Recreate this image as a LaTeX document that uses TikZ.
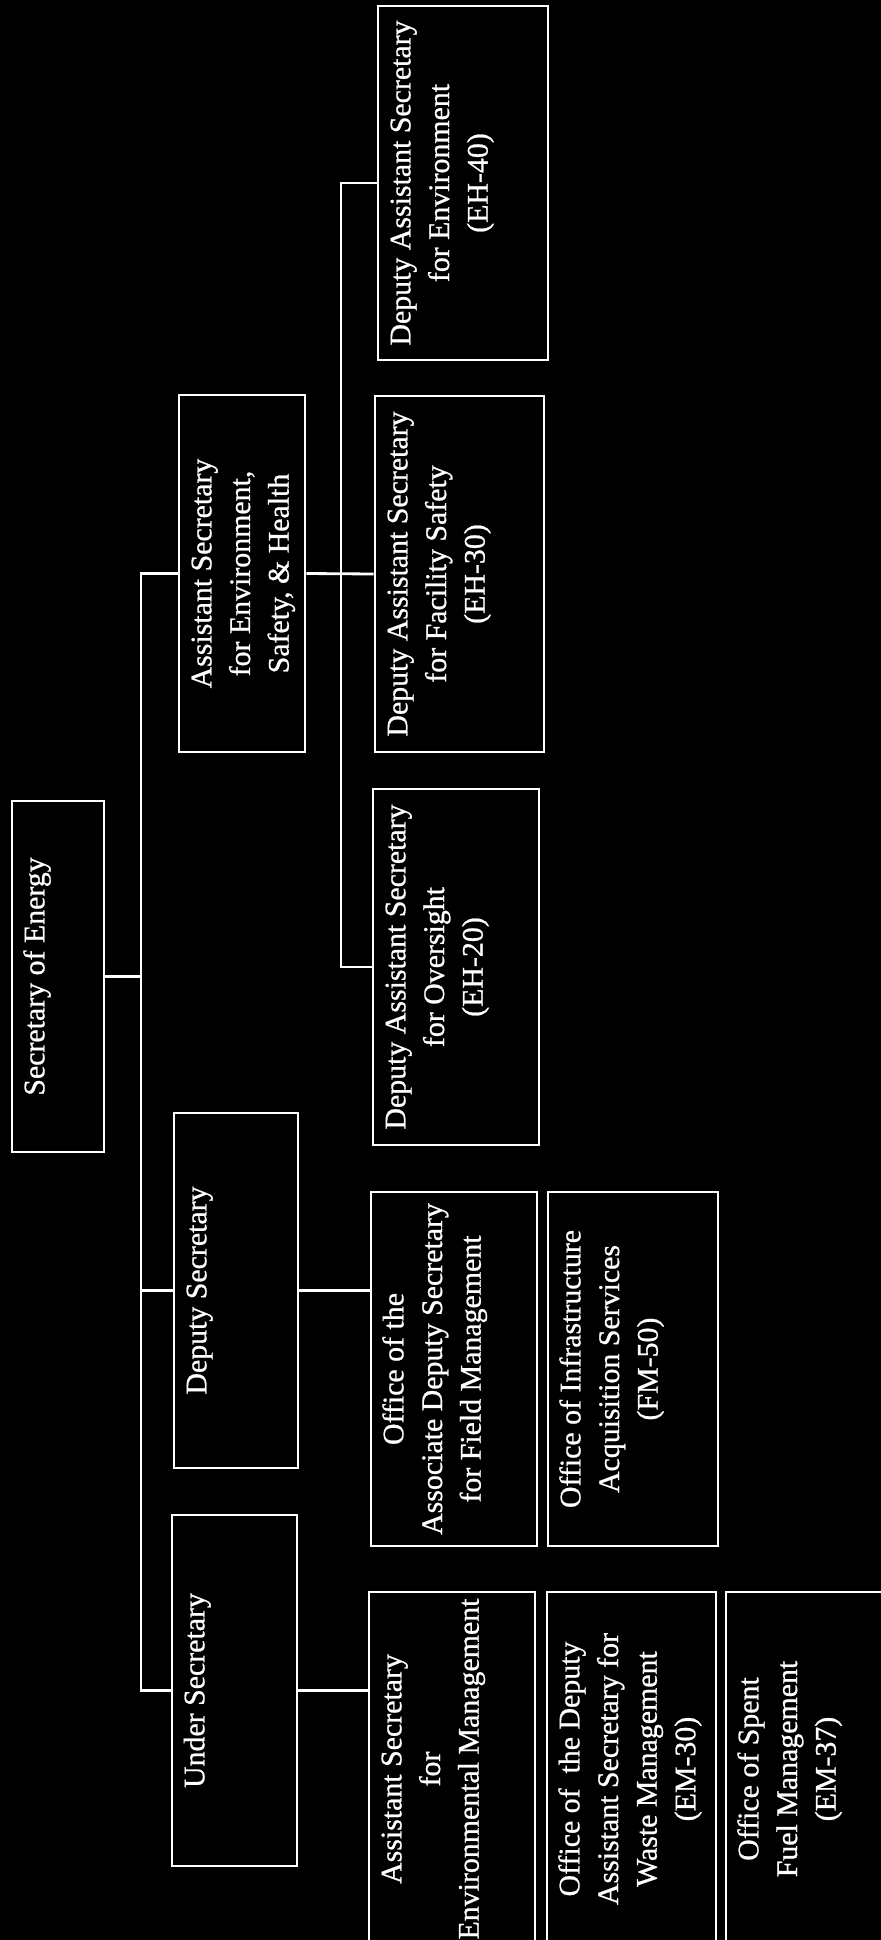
\documentclass[tikz,border=0pt]{standalone}
\usepackage{fontspec}
\setmainfont{Liberation Serif}
\newfontfamily\scanfont{Liberation Serif}[FakeBold=0.8]
\usetikzlibrary{calc}

% text of a unit, set from its upper edge (the left edge once turned)
\newcommand{\unittext}[3]{\parbox[c][#2][t]{#1}{\centering\vspace*{3pt}\strut #3}}

\begin{document}
\begin{tikzpicture}[x=0.02cm, y=-0.02cm,
  unit/.style={draw=white, line width=1.6pt, rotate=90, inner sep=0pt, text=white,
    font=\scanfont\fontsize{17}{22}\selectfont},
  link/.style={white, line width=1.6pt}]

\useasboundingbox (0,0) rectangle (881,1940);
\clip (0,0) rectangle (881,1940);
\fill [black] (0,0) rectangle (881,1940);

% top and second level
\node [unit] (sec) at (58,976.5) {\unittext{7.02cm}{1.84cm}{Secretary of Energy}};
\node [unit] (ess) at (242,573.5) {\unittext{7.14cm}{2.52cm}{Assistant Secretary\\ for Environment,\\ Safety, \& Health}};
\node [unit] (dep) at (236,1290.5) {\unittext{7.10cm}{2.48cm}{Deputy Secretary}};
\node [unit] (under) at (234.5,1690.5) {\unittext{7.02cm}{2.50cm}{Under Secretary}};

% EH offices
\node [unit] (eh40) at (463,183) {\unittext{7.08cm}{3.40cm}{Deputy Assistant Secretary\\ for Environment\\ (EH-40)}};
\node [unit] (eh30) at (459.5,574) {\unittext{7.12cm}{3.38cm}{Deputy Assistant Secretary\\ for Facility Safety\\ (EH-30)}};
\node [unit] (eh20) at (456,967) {\unittext{7.12cm}{3.32cm}{Deputy Assistant Secretary\\ for Oversight\\ (EH-20)}};

% field management
\node [unit] (assoc) at (454,1369) {\unittext{7.08cm}{3.32cm}{Office of the\\ Associate Deputy Secretary\\ for Field Management}};
\node [unit] (infra) at (633,1369) {\unittext{7.08cm}{3.40cm}{Office of Infrastructure\\ Acquisition Services\\ (FM-50)}};

% environmental management
\node [unit] (em) at (452,1769) {\unittext{7.08cm}{3.32cm}{Assistant Secretary\\ for\\ Environmental Management}};
\node [unit] (em30) at (631.5,1769) {\unittext{7.08cm}{3.38cm}{Office of~ the Deputy\\ Assistant Secretary for\\ Waste Management\\ (EM-30)}};
\node [unit] (em37) at (811,1769) {\unittext{7.08cm}{3.40cm}{Office of Spent\\ Fuel Management\\ (EM-37)}};

\coordinate (bus) at (141,0);
\coordinate (sub) at (341,0);

\draw [link] (ess.north) -- (ess.north -| bus) |- (under.north);
\draw [link] (sec.south) -- (sec.south -| bus);
\draw [link] (dep.north) -- (dep.north -| bus);
\draw [link] (ess.south) -- (eh30.north);
\draw [link] (eh40.north) -- (eh40.north -| sub) |- (eh20.north);
\draw [link] (dep.south) -- (dep.south -| assoc.north);
\draw [link] (under.south) -- (under.south -| em.north);

\end{tikzpicture}
\end{document}
